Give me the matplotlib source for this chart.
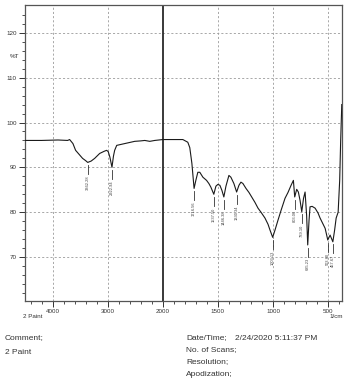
import matplotlib
matplotlib.use("Agg")
import matplotlib.pyplot as plt
from matplotlib.ticker import FixedLocator, NullFormatter

plt.rcParams['font.family'] = ['Liberation Sans', 'DejaVu Sans']

# spectrum (wavenumber 1/cm, %T)
wavenumber = [4500, 4200, 3900, 3727, 3690, 3630, 3582, 3455, 3400, 3362, 3300, 3236, 3145,
              3060, 3018, 2990, 2960, 2922, 2895, 2873, 2836, 2691, 2509, 2400, 2327, 2236,
              2145, 2000, 1891, 1818, 1773, 1755, 1736, 1716, 1700, 1682, 1664, 1636, 1603,
              1582, 1564, 1537, 1518, 1500, 1482, 1464, 1446, 1427, 1400, 1382, 1355, 1330,
              1309, 1291, 1273, 1245, 1218, 1191, 1164, 1136, 1109, 1073, 1045, 1027, 1003,
              982, 955, 927, 891, 864, 836, 815, 803, 785, 770, 755, 739, 723, 709, 695, 685,
              673, 664, 645, 618, 591, 573, 545, 527, 503, 482, 457, 441, 427, 409, 395, 386,
              376]
transmittance = [96.0, 96.0, 96.1, 96.0, 96.2, 95.3, 93.8, 92.0, 91.5, 91.1, 91.4, 92.0, 93.1,
                 93.6, 93.8, 93.5, 92.3, 90.0, 92.5, 93.8, 94.9, 95.3, 95.8, 95.9, 96.0, 95.8,
                 96.0, 96.2, 96.2, 96.2, 95.6, 94.4, 90.9, 85.3, 87.1, 88.9, 88.9, 87.8, 87.1,
                 86.4, 85.6, 84.0, 85.8, 86.2, 86.0, 84.9, 83.4, 85.8, 88.2, 87.8, 86.4, 84.5,
                 86.0, 86.7, 86.4, 85.3, 84.4, 83.3, 82.2, 80.9, 80.0, 78.7, 77.3, 76.0, 74.4,
                 76.0, 78.2, 80.4, 83.1, 84.4, 86.0, 87.1, 83.4, 85.1, 84.5, 82.7, 80.1, 83.1,
                 84.5, 79.3, 72.7, 78.2, 81.2, 81.3, 80.9, 79.8, 78.7, 77.3, 76.4, 73.8, 74.9,
                 73.4, 76.0, 78.7, 80.0, 87.1, 96.0, 104.0]

# labelled peaks
peak_wn = [3362.28, 2922.94, 1716.56, 1537.50, 1446.38, 1330.34, 1003.13, 803.06, 739.10,
           685.23, 503.80, 457.67]
peak_t = [91.1, 90.0, 85.3, 84.0, 83.4, 84.5, 74.4, 83.4, 80.1, 72.7, 73.8, 73.4]

x_major = [4000, 3000, 2000, 1500, 1000, 500]
x_minor = [4400, 4200, 3800, 3600, 3400, 3200, 2800, 2600, 2400, 2200,
           1900, 1800, 1700, 1600, 1400, 1300, 1200, 1100, 900, 800, 700, 600, 400]
y_major = [70, 80, 90, 100, 110, 120]
y_minor = [62, 64, 66, 68, 72, 74, 76, 78, 82, 84, 86, 88, 92, 94, 96, 98,
           102, 104, 106, 108, 112, 114, 116, 118, 122, 124]


def fwd(w):
    import numpy as np
    w = np.asarray(w, dtype=float)
    return np.where(w > 2000, 2000 + (w - 2000) / 2.0, w)


def inv(u):
    import numpy as np
    u = np.asarray(u, dtype=float)
    return np.where(u > 2000, 2000 + (u - 2000) * 2.0, u)


W, H = 349, 382
fig = plt.figure(figsize=(W / 100, H / 100), dpi=100)
ax = fig.add_axes([25 / W, 1 - 301 / H, 317 / W, 296 / H])
ax.set_xscale('function', functions=(fwd, inv))
ax.set_xlim(4500, 374)
ax.set_ylim(60.2, 126.2)

ax.plot(wavenumber, transmittance, color='#1a1a1a', lw=0.8, zorder=3)

# grid
for xv in x_major:
    if xv == 2000:
        ax.axvline(xv, color='#2a2a2a', lw=1.3, zorder=2)
    else:
        ax.axvline(xv, color='#9a9a9a', lw=0.6, ls=(0, (2.5, 2.5)), zorder=1)
for yv in y_major:
    ax.axhline(yv, color='#9a9a9a', lw=0.6, ls=(0, (2.5, 2.5)), zorder=1)

# peak labels
for w, t in zip(peak_wn, peak_t):
    ax.plot([w, w], [t - 0.6, t - 2.6], color='#333333', lw=0.6, zorder=3)
    ax.text(w, t - 2.9, f"{w:.2f}", rotation=90, ha='center', va='top',
            fontsize=2.9, color='#444444', zorder=3)

ax.xaxis.set_major_locator(FixedLocator(x_major))
ax.xaxis.set_minor_locator(FixedLocator(x_minor))
ax.yaxis.set_major_locator(FixedLocator(y_major))
ax.yaxis.set_minor_locator(FixedLocator(y_minor))
ax.xaxis.set_minor_formatter(NullFormatter())
ax.set_xticklabels([str(v) for v in x_major])
ax.set_yticklabels([str(v) for v in y_major])
ax.tick_params(axis='both', which='major', direction='out', length=4, width=0.7,
               color='#333333', labelsize=4.5, labelcolor='#333333', pad=2)
ax.tick_params(axis='both', which='minor', direction='out', length=2.5, width=0.6,
               color='#333333')
for s in ax.spines.values():
    s.set_color('#555555')
    s.set_linewidth(0.9)

# axis annotations
fig.text(15 / W, 1 - 57 / H, '%T', fontsize=4.5, color='#333333', ha='center', va='center')
fig.text(23 / W, 1 - 316 / H, '2 Paint', fontsize=4.5, color='#333333', ha='left', va='center')
fig.text(343 / W, 1 - 316 / H, '1/cm', fontsize=4.5, color='#333333', ha='right', va='center')

# footer
fs = 6
fig.text(5 / W, 1 - 338 / H, 'Comment;', fontsize=fs, color='#333333', va='center')
fig.text(5 / W, 1 - 352 / H, '2 Paint', fontsize=fs, color='#333333', va='center')
fig.text(186 / W, 1 - 338 / H, 'Date/Time;', fontsize=fs, color='#333333', va='center')
fig.text(235 / W, 1 - 338 / H, '2/24/2020 5:11:37 PM', fontsize=fs, color='#333333', va='center')
fig.text(186 / W, 1 - 350 / H, 'No. of Scans;', fontsize=fs, color='#333333', va='center')
fig.text(186 / W, 1 - 362 / H, 'Resolution;', fontsize=fs, color='#333333', va='center')
fig.text(186 / W, 1 - 374 / H, 'Apodization;', fontsize=fs, color='#333333', va='center')

fig.savefig('out.png', dpi=100, facecolor='white')
